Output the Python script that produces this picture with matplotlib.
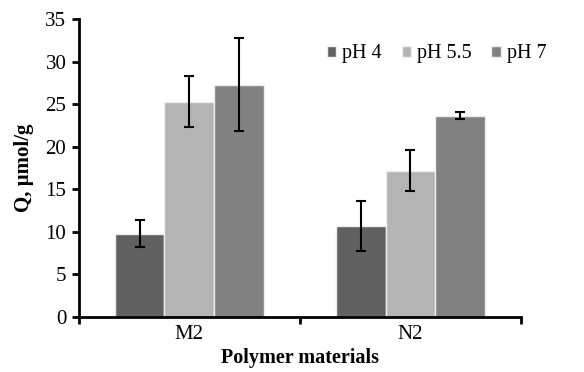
import numpy as np
import matplotlib.pyplot as plt

plt.rcParams['font.family'] = ['Liberation Serif', 'DejaVu Serif']

materials = ['M2', 'N2']
series = ['pH 4', 'pH 5.5', 'pH 7']
ph4 = [9.8, 10.7]
ph55 = [25.3, 17.2]
ph7 = [27.3, 23.65]
ph4_err = [1.55, 2.95]
ph55_err = [3.0, 2.4]
ph7_err = [5.5, 0.4]

colors = ['#616161', '#b4b4b4', '#818181']

fig = plt.figure(figsize=(5.84, 3.72), dpi=100)
ax = fig.add_axes([0.135, 0.148, 0.757, 0.801])

x = np.arange(len(materials))
w = 0.225
for i, (vals, errs) in enumerate([(ph4, ph4_err), (ph55, ph55_err), (ph7, ph7_err)]):
    ax.bar(x + (i - 1) * w, vals, w, color=colors[i], edgecolor='#eeeeee',
           linewidth=1.0, label=series[i], zorder=2)
    ax.errorbar(x + (i - 1) * w, vals, yerr=errs, fmt='none', ecolor='black',
                elinewidth=1.5, capsize=3.5, capthick=1.5, zorder=3)

ax.set_xlim(-0.5, 1.5)
ax.set_ylim(0, 35)
ax.set_yticks(range(0, 36, 5))
ax.set_xticks([-0.5, 0.5, 1.5])
ax.set_xticklabels([])
ax.set_xticks(x, minor=True)
ax.set_xticklabels(materials, minor=True)
ax.tick_params(axis='x', which='minor', length=0, labelsize=15, pad=6)
ax.tick_params(axis='x', which='major', length=5, width=2, direction='out')
ax.tick_params(axis='y', length=5, width=2, direction='out', labelsize=15, pad=4)

for s in ['top', 'right']:
    ax.spines[s].set_visible(False)
for s in ['left', 'bottom']:
    ax.spines[s].set_linewidth(2)

ax.set_ylabel('Q, µmol/g', fontsize=15, fontweight='bold', labelpad=8)
ax.set_xlabel('Polymer materials', fontsize=14.5, fontweight='bold', labelpad=3)

ax.legend(loc='center', bbox_to_anchor=(0.809, 0.883), ncol=3, frameon=False,
          fontsize=14.5, handlelength=0.45, handleheight=0.45, handletextpad=0.3,
          columnspacing=1.0)

fig.savefig('out.png', dpi=100)
